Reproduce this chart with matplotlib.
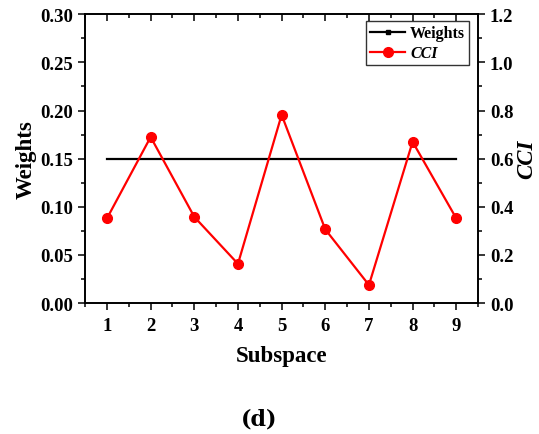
import matplotlib.pyplot as plt
from matplotlib.lines import Line2D
import numpy as np

# data
subspace = [1, 2, 3, 4, 5, 6, 7, 8, 9]
weights = [0.15, 0.15, 0.15, 0.15, 0.15, 0.15, 0.15, 0.15, 0.15]
cci = [0.352, 0.690, 0.358, 0.163, 0.782, 0.306, 0.075, 0.670, 0.352]

plt.rcParams['font.family'] = 'Liberation Serif'
plt.rcParams['font.weight'] = 'bold'

fig = plt.figure(figsize=(5.39, 4.35), dpi=100)
ax = fig.add_axes([0.158, 0.301, 0.729, 0.664])
ax2 = ax.twinx()

ax.plot(subspace, weights, color='black', linewidth=1.6)
l2, = ax2.plot(subspace, cci, color='red', linewidth=1.6, marker='o', markersize=7)
l1 = Line2D([], [], color='black', linewidth=1.6, marker='s', markersize=2.5)

ax.set_xlim(0.5, 9.5)
ax.set_ylim(0, 0.30)
ax2.set_ylim(0, 1.2)
ax.set_xticks(subspace)
ax.set_xticks(np.arange(0.5, 9.6, 0.5), minor=True)
ax.set_yticks(np.arange(0, 0.31, 0.05))
ax.set_yticks(np.arange(0, 0.31, 0.025), minor=True)
ax2.set_yticks(np.arange(0, 1.21, 0.2))
ax2.set_yticks(np.arange(0, 1.21, 0.1), minor=True)
ax.set_yticklabels(['%.2f' % v for v in np.arange(0, 0.31, 0.05)])
ax2.set_yticklabels(['%.1f' % v for v in np.arange(0, 1.21, 0.2)])

ax.tick_params(axis='both', which='major', labelsize=13.5, length=5, width=1.1, direction='out')
ax.tick_params(axis='both', which='minor', length=3, width=1.1, direction='out')
ax.tick_params(axis='x', which='both', top=True)
ax.tick_params(axis='x', which='major', pad=5)
ax2.tick_params(axis='y', which='major', labelsize=13.5, length=5, width=1.1, direction='out')
ax2.tick_params(axis='y', which='minor', length=3, width=1.1, direction='out')
# top ticks point inward
for t in ax.xaxis.get_major_ticks() + ax.xaxis.get_minor_ticks():
    t.tick2line.set_marker(3)
for s in ax.spines.values():
    s.set_linewidth(1.2)
for s in ax2.spines.values():
    s.set_linewidth(1.2)
for lbl in ax.get_xticklabels() + ax.get_yticklabels() + ax2.get_yticklabels():
    lbl.set_fontweight('bold')

ax.set_xlabel('Subspace', fontsize=16.5, fontweight='bold', labelpad=8)
ax.set_ylabel('Weights', fontsize=16.5, fontweight='bold', labelpad=3)
ax2.set_ylabel('CCI', fontsize=16.5, fontweight='bold', style='italic', labelpad=2)

leg = ax2.legend([l1, l2], ['Weights', 'CCI'], loc='upper right', fontsize=11.5,
                 frameon=True, fancybox=False, edgecolor='black', borderpad=0.25,
                 handlelength=2.2, handletextpad=0.3, labelspacing=0.25,
                 borderaxespad=0, bbox_to_anchor=(0.977, 0.976))
leg.get_frame().set_linewidth(1.0)
leg.get_texts()[1].set_fontstyle('italic')

fig.text(0.48, 0.035, '(d)', fontsize=16, fontweight='bold', family='DejaVu Serif',
         ha='center', va='center')

fig.savefig('out.png', dpi=100)
